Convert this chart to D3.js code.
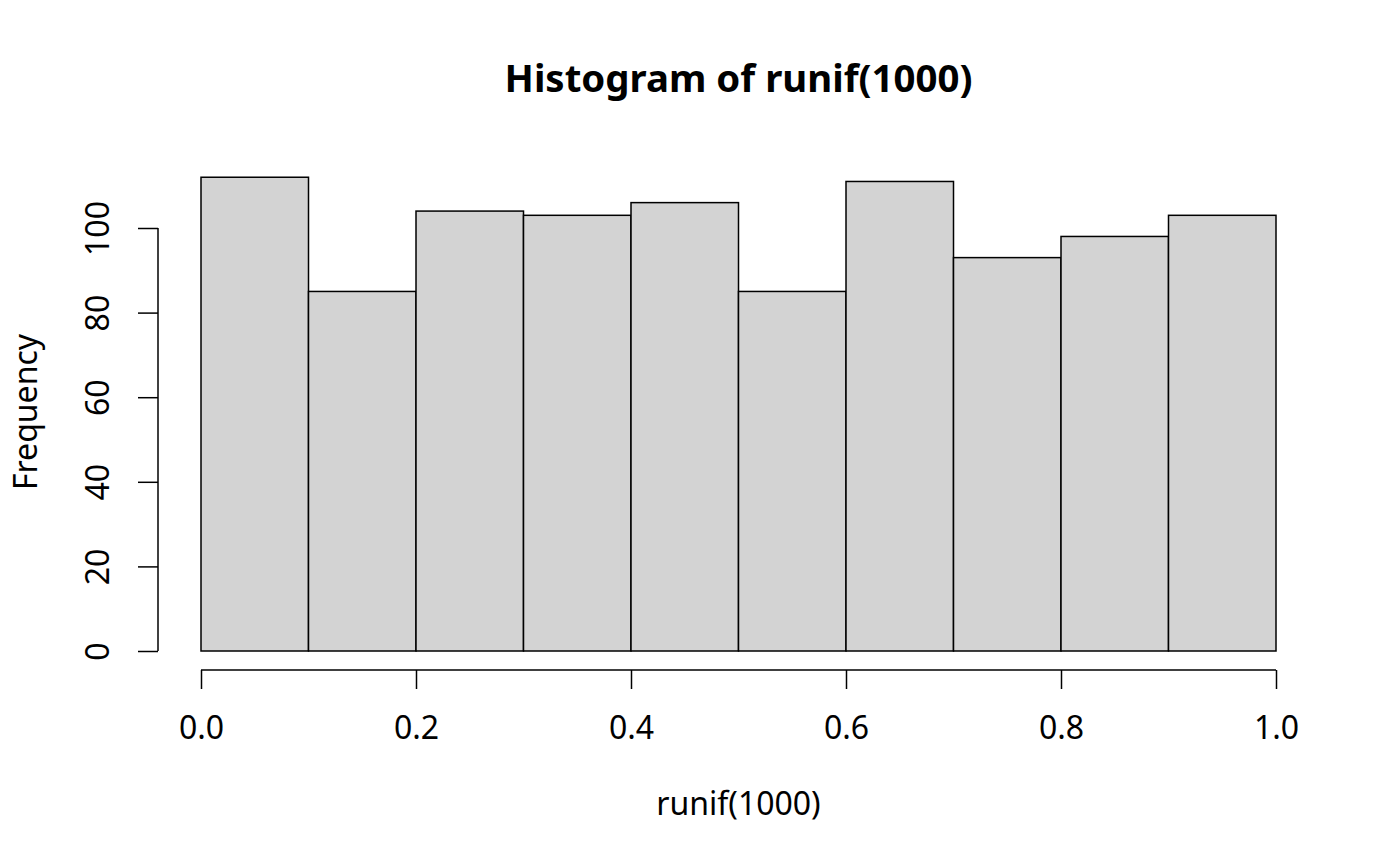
<!DOCTYPE html>
<html><head><meta charset="utf-8">
<script src="https://cdn.jsdelivr.net/npm/d3@7"></script>
<style>body{margin:0;background:#fff}svg{display:block}text{font-family:"Noto Sans","Open Sans",sans-serif;fill:#000}</style>
</head><body>
<script>
const binStarts = [0.0,0.1,0.2,0.3,0.4,0.5,0.6,0.7,0.8,0.9];
const binWidth = 0.1;
const counts = [112,85,104,103,106,85,111,93,98,103];
const xTicks = [0.0,0.2,0.4,0.6,0.8,1.0];
const yTicks = [0,20,40,60,80,100];
const title = "Histogram of runif(1000)";
const xLabel = "runif(1000)";
const yLabel = "Frequency";

const W=1400,H=866;
const svg=d3.select("body").append("svg").attr("width",W).attr("height",H);
const x=d3.scaleLinear().domain([0,1]).range([201,1276]);
const y=d3.scaleLinear().domain([0,100]).range([651,228]);
const left=158, bottom=670;
const fs=32;

svg.append("g").selectAll("rect").data(binStarts).join("rect")
  .attr("x",d=>x(d)).attr("width",d=>x(d+binWidth)-x(d))
  .attr("y",(d,i)=>y(counts[i])).attr("height",(d,i)=>y(0)-y(counts[i]))
  .attr("fill","#d3d3d3").attr("stroke","#000").attr("stroke-width",1.5);

// x axis
const gx=svg.append("g").attr("transform",`translate(0,${bottom})`)
  .call(d3.axisBottom(x).tickValues(xTicks).tickFormat(d3.format(".1f")).tickSize(19).tickSizeOuter(0));
gx.select(".domain").attr("d",`M${x(0)},0H${x(1)}`);
gx.selectAll(".tick text").attr("y",69).attr("dy",null);
// y axis
const gy=svg.append("g").attr("transform",`translate(${left},0)`)
  .call(d3.axisLeft(y).tickValues(yTicks).tickSize(20).tickSizeOuter(0));
gy.select(".domain").attr("d",`M0,${y(0)}V${y(100)}`);
[gx,gy].forEach(g=>{g.selectAll("path,line").attr("stroke","#000").attr("stroke-width",1.5);
  g.selectAll("text").attr("font-size",fs).attr("font-family",'"Noto Sans","Open Sans",sans-serif').attr("fill","#000");});
gy.selectAll(".tick text").attr("text-anchor","middle").attr("x",null).attr("dy",null)
  .attr("transform","translate(-49,0) rotate(-90)");

svg.append("text").attr("x",738.5).attr("y",92).attr("text-anchor","middle")
  .attr("font-size",fs*1.2).attr("font-weight","bold").text(title);
svg.append("text").attr("x",738.5).attr("y",815).attr("text-anchor","middle")
  .attr("font-size",fs).text(xLabel);
svg.append("text").attr("transform","translate(37,412) rotate(-90)").attr("text-anchor","middle")
  .attr("font-size",fs).text(yLabel);
</script>
</body></html>
